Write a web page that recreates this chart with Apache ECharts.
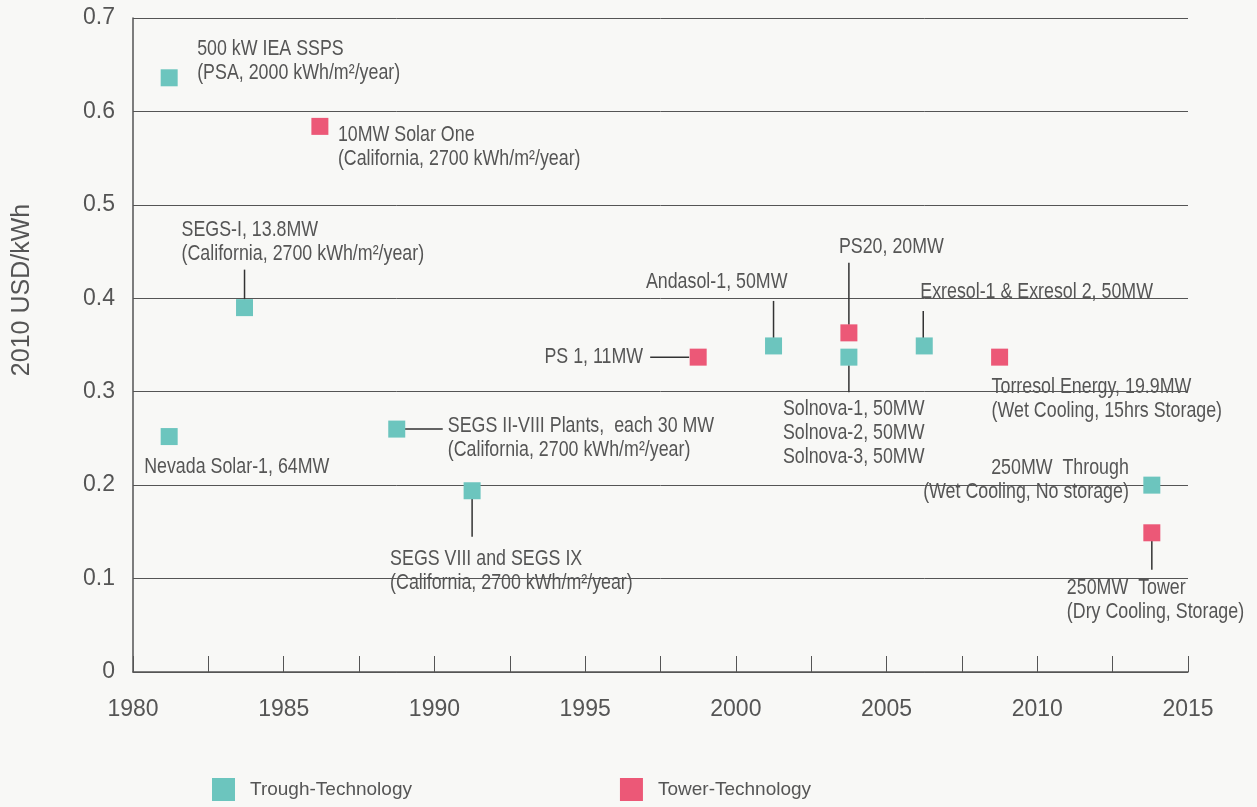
<!DOCTYPE html>
<html>
<head>
<meta charset="utf-8">
<script src="https://cdn.jsdelivr.net/npm/echarts@6/dist/echarts.min.js"></script>
<style>
  html, body { margin: 0; padding: 0; background: #f8f8f6; }
  #chart { width: 1257px; height: 807px; }
</style>
</head>
<body>
<div id="chart"></div>
<script>
// trough plants
var troughYears = [1981.2, 1983.7, 1981.2, 1988.75, 1991.25, 2001.25, 2003.75, 2006.25, 2013.8];
var troughCost = [0.636, 0.39, 0.252, 0.26, 0.194, 0.349, 0.337, 0.349, 0.2];
var troughNames = [
  '500 kW IEA SSPS\n(PSA, 2000 kWh/m²/year)',
  'SEGS-I, 13.8MW\n(California, 2700 kWh/m²/year)',
  'Nevada Solar-1, 64MW',
  'SEGS II-VIII Plants,  each 30 MW\n(California, 2700 kWh/m²/year)',
  'SEGS VIII and SEGS IX\n(California, 2700 kWh/m²/year)',
  'Andasol-1, 50MW',
  'Solnova-1, 50MW\nSolnova-2, 50MW\nSolnova-3, 50MW',
  'Exresol-1 & Exresol 2, 50MW',
  '250MW  Through\n(Wet Cooling, No storage)'
];
// tower plants
var towerYears = [1986.2, 1998.75, 2003.75, 2008.75, 2013.8];
var towerCost = [0.584, 0.337, 0.363, 0.337, 0.149];
var towerNames = [
  '10MW Solar One\n(California, 2700 kWh/m²/year)',
  'PS 1, 11MW',
  'PS20, 20MW',
  'Torresol Energy, 19.9MW\n(Wet Cooling, 15hrs Storage)',
  '250MW  Tower\n(Dry Cooling, Storage)'
];

var xTicks = [1980, 1985, 1990, 1995, 2000, 2005, 2010, 2015];

var TEAL = '#6cc5be';
var PINK = '#ec5877';
var TEXT = '#555';
var FONT = '"Liberation Sans", sans-serif';

// label placement relative to the marker (pixels): text offset, align, leader line
var troughLayout = [
  { dx: 28, dy: -17, align: 'left' },
  { dx: -63, dy: -66, align: 'left', line: [0, -38, 0, -8] },
  { dx: -25, dy: 30, align: 'left' },
  { dx: 51, dy: 9, align: 'left', line: [8, 0, 46, 0] },
  { dx: -82, dy: 80, align: 'left', line: [0, 8, 0, 46] },
  { dx: 14, dy: -64, align: 'right', line: [0, -45, 0, -8] },
  { dx: -66, dy: 76, align: 'left', line: [0, 8, 0, 35] },
  { dx: -4, dy: -54, align: 'left', line: [-1, -35, -1, -8] },
  { dx: -23, dy: -5, align: 'right' }
];
var towerLayout = [
  { dx: 18, dy: 21, align: 'left' },
  { dx: -55, dy: 0, align: 'right', line: [-48, 0, -9, 0] },
  { dx: -10, dy: -86, align: 'left', line: [0, -70, 0, -8] },
  { dx: -8, dy: 42, align: 'left' },
  { dx: -85, dy: 67, align: 'left', line: [0, 8, 0, 37] }
];

var notes = [];
troughYears.forEach(function (y, i) {
  notes.push({ value: [y, troughCost[i]], text: troughNames[i], lay: troughLayout[i] });
});
towerYears.forEach(function (y, i) {
  notes.push({ value: [y, towerCost[i]], text: towerNames[i], lay: towerLayout[i] });
});

var chart = echarts.init(document.getElementById('chart'));

var option = {
  backgroundColor: '#f8f8f6',
  animation: false,
  grid: { left: 133, right: 69, top: 18, bottom: 135 },
  legend: {
    left: 207,
    top: 773,
    itemWidth: 23,
    itemHeight: 23,
    itemGap: 208,
    icon: 'rect',
    data: ['Trough-Technology', 'Tower-Technology'],
    textStyle: { color: TEXT, fontSize: 19, fontFamily: FONT, padding: [10, 0, 0, 10] }
  },
  xAxis: {
    type: 'value',
    min: 1980,
    max: 2015,
    interval: 2.5,
    axisLine: { show: true, lineStyle: { color: '#555', width: 1.5 } },
    axisTick: { show: true, inside: true, length: 16, lineStyle: { color: '#555' } },
    splitLine: { show: false },
    axisLabel: {
      color: TEXT,
      fontSize: 23,
      fontFamily: FONT,
      margin: 26,
      formatter: function (v) { return xTicks.indexOf(v) >= 0 ? String(v) : ''; }
    }
  },
  yAxis: {
    type: 'value',
    min: 0,
    max: 0.7,
    interval: 0.1,
    name: '2010 USD/kWh',
    nameLocation: 'middle',
    nameGap: 98,
    nameTextStyle: { color: TEXT, fontSize: 25, fontFamily: FONT, padding: [0, 0, 0, 110] },
    axisLine: { show: true, lineStyle: { color: '#555', width: 1.5 } },
    axisTick: { show: false },
    splitLine: { show: true, lineStyle: { color: '#555', width: 1 } },
    axisLabel: { color: TEXT, fontSize: 23, fontFamily: FONT, margin: 18 }
  },
  series: [
    {
      type: 'custom',
      name: 'notes',
      silent: true,
      z: 1,
      data: notes.map(function (n) { return n.value; }),
      renderItem: function (params, api) {
        var n = notes[params.dataIndex];
        var p = api.coord([api.value(0), api.value(1)]);
        var kids = [];
        if (n.lay.line) {
          var l = n.lay.line;
          kids.push({
            type: 'line',
            shape: { x1: p[0] + l[0], y1: p[1] + l[1], x2: p[0] + l[2], y2: p[1] + l[3] },
            style: { stroke: '#333', lineWidth: 1.5 }
          });
        }
        // condensed look: normal glyphs squeezed horizontally
        kids.push({
          type: 'text',
          x: p[0] + n.lay.dx,
          y: p[1] + n.lay.dy,
          scaleX: 0.81,
          style: {
            text: n.text,
            fill: TEXT,
            font: '22px ' + FONT,
            align: n.lay.align,
            verticalAlign: 'middle',
            lineHeight: 24
          }
        });
        return { type: 'group', children: kids };
      }
    },
    {
      type: 'scatter',
      name: 'Trough-Technology',
      symbol: 'rect',
      symbolSize: 17,
      z: 3,
      itemStyle: { color: TEAL, opacity: 1 },
      data: troughYears.map(function (y, i) { return [y, troughCost[i]]; })
    },
    {
      type: 'scatter',
      name: 'Tower-Technology',
      symbol: 'rect',
      symbolSize: 17,
      z: 3,
      itemStyle: { color: PINK, opacity: 1 },
      data: towerYears.map(function (y, i) { return [y, towerCost[i]]; })
    }
  ]
};

chart.setOption(option);
</script>
</body>
</html>
